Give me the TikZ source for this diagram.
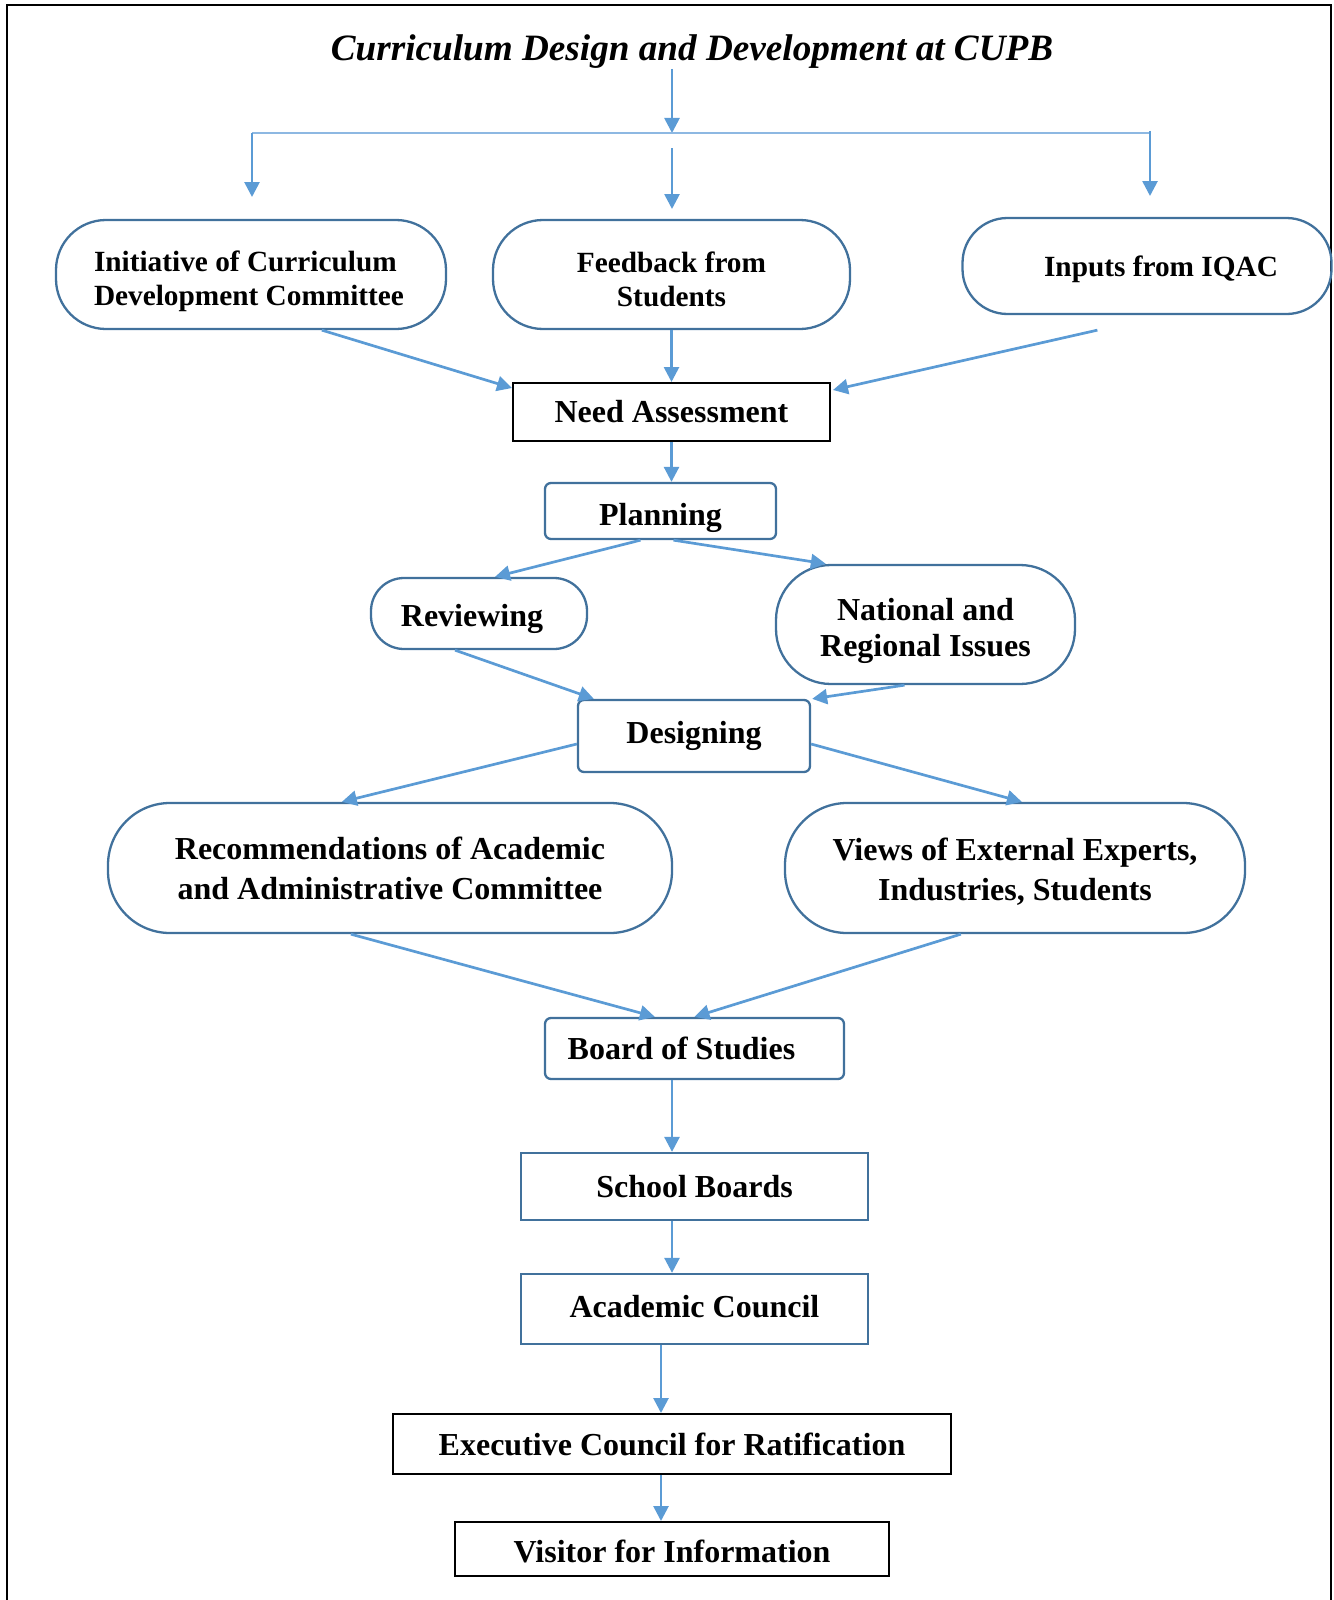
\documentclass[tikz,border=0pt]{standalone}
\usepackage{fontspec}
\setmainfont{Liberation Serif}
\usetikzlibrary{arrows.meta,calc}
\definecolor{nodeblue}{HTML}{41719C}
\definecolor{arrblue}{HTML}{5B9BD5}
\definecolor{lineblue}{HTML}{8DB8E2}
\begin{document}
\begin{tikzpicture}[x=1pt,y=-1pt,
  txt/.style={font=\bfseries\fontsize{32}{40}\selectfont,align=center,inner sep=0pt},
  smalltxt/.style={font=\bfseries\fontsize{29.3}{34}\selectfont,inner sep=0pt},
  stad/.style={draw=nodeblue,line width=2.3pt,rounded corners=#1},
  rbox/.style={draw=nodeblue,line width=2.3pt,rounded corners=6pt},
  sbox/.style={draw=nodeblue,line width=2.3pt},
  bbox/.style={draw=black,line width=2pt},
  arr/.style={draw=arrblue,line width=2.7pt,-{Triangle[length=15pt,width=15pt]}}]
\useasboundingbox (0,0) rectangle (1333,1600);
% frame
\draw[line width=2pt] (7,1600) -- (7,5) -- (1331,5) -- (1331,1600);
% title
\node[font=\bfseries\itshape\fontsize{37.2}{44}\selectfont,inner sep=0pt] (title) at (692,52) {Curriculum Design and Development at CUPB};
\coordinate (t0) at (672,69);
\coordinate (t1) at (672,133);
\coordinate (bl) at (252,133);
\coordinate (br) at (1150,131);
\coordinate (bm) at (672,148);
\draw[arr] (t0) -- (t1);
\draw[draw=lineblue,line width=1.8pt] (bl) -- (1150,133);
\coordinate (a1) at (252,197);
\coordinate (a2) at (672,209);
\coordinate (a3) at (1150,196);
\draw[arr] (bl) -- (a1);
\draw[arr] (bm) -- (a2);
\draw[arr] (br) -- (a3);
% top nodes
\node[stad=50pt,minimum width=390pt,minimum height=109pt,
  label={[smalltxt,align=left,yshift=-7pt,xshift=-2pt]center:{Initiative of Curriculum\\Development Committee}}] (n1) at (251,274.5) {};
\node[stad=50pt,minimum width=357pt,minimum height=109pt,
  label={[smalltxt,align=center,yshift=-5pt]center:{Feedback from\\Students}}] (n2) at (671.5,274.5) {};
\node[stad=45pt,minimum width=369pt,minimum height=96pt,
  label={[smalltxt,xshift=14pt,yshift=-3pt]center:{Inputs from IQAC}}] (n3) at (1147,266) {};
% need assessment
\node[bbox,txt,minimum width=317pt,minimum height=58pt] (need) at (671.5,412) {Need Assessment};
\draw[arr] ($(n1.south west)+(267,0)$) -- ($(need.north west)+(0,6)$);
\draw[arr] (n2.south) -- (need.north);
\draw[arr] ($(n3.south west)+(136,15)$) -- ($(need.north east)+(2,8)$);
% planning
\node[rbox,minimum width=231pt,minimum height=56pt,
  label={[txt,yshift=-7pt]center:Planning}] (plan) at (660.5,511) {};
\draw[arr] (need.south) -- (need.south |- plan.north);
% reviewing & national
\node[stad=33pt,minimum width=216pt,minimum height=71pt,
  label={[txt,xshift=-7pt,yshift=-5pt]center:Reviewing}] (rev) at (479,613.5) {};
\node[stad=55pt,minimum width=299pt,minimum height=119pt,
  label={[txt,font=\bfseries\fontsize{32}{36}\selectfont,yshift=-6pt]center:{National and\\Regional Issues}}] (nat) at (925.5,624.5) {};
\draw[arr] ($(plan.south)+(-20,0)$) -- ($(rev.north)+(16,0)$);
\draw[arr] ($(plan.south)+(13,0)$) -- ($(nat.north west)+(51,0)$);
% designing
\node[rbox,txt,minimum width=232pt,minimum height=72pt] (des) at (694,736) {Designing};
\draw[arr] ($(rev.south)+(-24,0)$) -- ($(des.north west)+(17,0)$);
\draw[arr] ($(nat.south)+(-21,0)$) -- ($(des.north east)+(1,0)$);
% recommendations & views
\node[stad=62pt,txt,minimum width=564pt,minimum height=130pt] (rec) at (390,868) {Recommendations of Academic\\and Administrative Committee};
\node[stad=62pt,minimum width=460pt,minimum height=130pt,
  label={[txt,yshift=-4pt]center:{Views of External Experts,\\Industries, Students}}] (views) at (1015,868) {};
\draw[arr] ($(des.west)+(0,8)$) -- ($(rec.north west)+(235,0)$);
\draw[arr] ($(des.east)+(0,8)$) -- ($(views.north west)+(238,0)$);
% board of studies
\node[rbox,minimum width=299pt,minimum height=61pt,
  label={[txt,xshift=-13pt]center:Board of Studies}] (bos) at (694.5,1048.5) {};
\draw[arr] ($(rec.south west)+(244,0)$) -- ($(bos.north west)+(111,0)$);
\draw[arr] ($(views.south west)+(177,0)$) -- (bos.north);
% lower chain
\node[sbox,txt,minimum width=347pt,minimum height=67pt] (sb) at (694.5,1186.5) {School Boards};
\node[sbox,minimum width=347pt,minimum height=70pt,
  label={[txt,yshift=2pt]center:Academic Council}] (ac) at (694.5,1309) {};
\node[bbox,txt,minimum width=558pt,minimum height=60pt] (ec) at (672,1444) {Executive Council for Ratification};
\node[bbox,minimum width=434pt,minimum height=54pt,
  label={[txt,yshift=-2pt]center:Visitor for Information}] (vis) at (672,1549) {};
\draw[arr] ($(bos.south)+(-22.5,0)$) -- ($(sb.north)+(-22.5,0)$);
\draw[arr] ($(sb.south)+(-22.5,0)$) -- ($(ac.north)+(-22.5,0)$);
\draw[arr] ($(ac.south)+(-33.5,0)$) -- ($(ec.north)+(-11,0)$);
\draw[arr] ($(ec.south)+(-11,0)$) -- ($(vis.north)+(-11,0)$);
\end{tikzpicture}
\end{document}
